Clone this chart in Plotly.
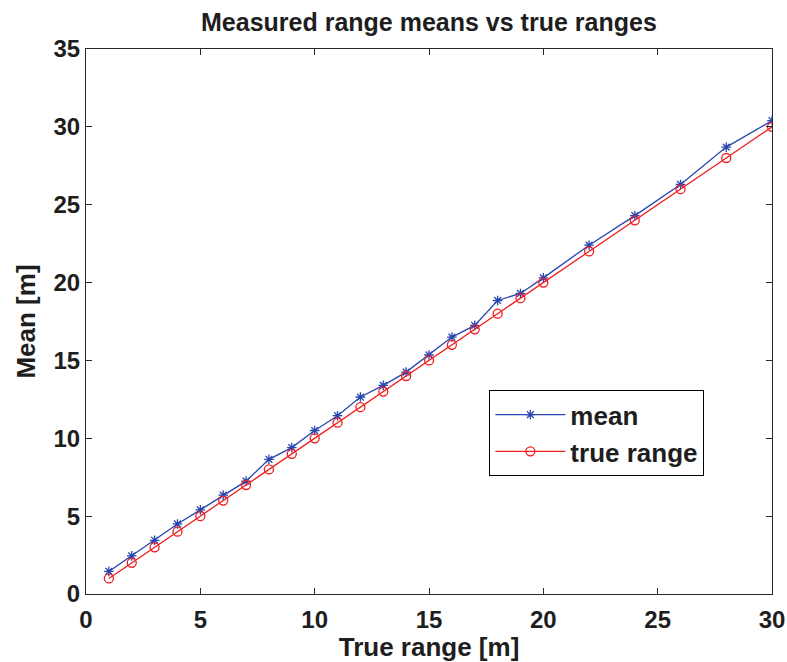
import plotly.graph_objects as go

# true ranges [m]
true_range = [1, 2, 3, 4, 5, 6, 7, 8, 9, 10, 11, 12, 13, 14, 15, 16, 17, 18, 19, 20,
              22, 24, 26, 28, 30]
# measured means [m]
mean_vals = [1.45, 2.45, 3.45, 4.5, 5.4, 6.35, 7.25, 8.65, 9.4, 10.5, 11.45, 12.65, 13.4,
             14.25, 15.35, 16.5, 17.25, 18.85, 19.3, 20.3, 22.4, 24.3, 26.3, 28.7, 30.4]

font_family = "Liberation Sans, Arial, sans-serif"
text_color = "rgb(30,30,30)"

fig = go.Figure()

fig.add_trace(go.Scatter(
    x=true_range, y=mean_vals, name="mean",
    mode="lines+markers",
    line=dict(color="rgb(40,70,175)", width=1.3),
    marker=dict(symbol="asterisk-open", size=8, color="rgb(40,70,175)",
                line=dict(width=1.3, color="rgb(40,70,175)"))
))

fig.add_trace(go.Scatter(
    x=true_range, y=true_range, name="true range",
    mode="lines+markers",
    line=dict(color="rgb(240,30,30)", width=1.3),
    marker=dict(symbol="circle-open", size=9, color="rgb(240,30,30)",
                line=dict(width=1.3, color="rgb(240,30,30)"))
))

axis_common = dict(
    showline=True, linecolor="rgb(40,40,40)", linewidth=1.2, mirror="ticks",
    ticks="inside", ticklen=6, tickcolor="rgb(40,40,40)", tickwidth=1,
    showgrid=False, zeroline=False, automargin=False,
    tickfont=dict(family=font_family, size=24, color=text_color, weight="bold"),
)

fig.update_layout(
    width=787, height=662,
    paper_bgcolor="white", plot_bgcolor="white",
    margin=dict(l=86, r=15, t=49, b=68),
    title=dict(text="<b>Measured range means vs true ranges</b>", x=0.545, xanchor="center",
               y=0.967, yanchor="middle",
               font=dict(family=font_family, size=25, color=text_color)),
    xaxis=dict(range=[0, 30], dtick=5, ticklabelstandoff=4,
               title=dict(text="<b>True range [m]</b>", standoff=2,
                          font=dict(family=font_family, size=26, color=text_color)),
               **axis_common),
    yaxis=dict(range=[0, 35], dtick=5,
               title=dict(text="<b>Mean [m]</b>", standoff=10,
                          font=dict(family=font_family, size=26, color=text_color)),
               **axis_common),
    legend=dict(x=0.588, y=0.374, xanchor="left", yanchor="top",
                bgcolor="white", bordercolor="black", borderwidth=1,
                font=dict(family=font_family, size=26, color=text_color, weight="bold"),
                itemwidth=70, tracegroupgap=2),
    showlegend=True,
)

# drop the default page margin so the figure fills the window exactly
fig.write_html("out.html",
               config={"displayModeBar": False},
               post_script="document.body.style.margin='0';"
                           "document.documentElement.style.overflow='hidden';")
